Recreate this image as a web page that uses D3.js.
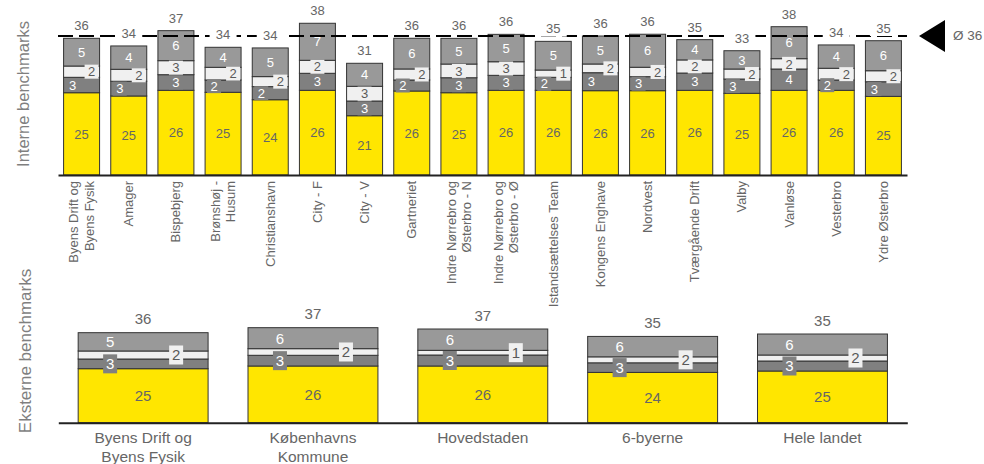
<!DOCTYPE html>
<html>
<head>
<meta charset="utf-8">
<script src="https://cdn.jsdelivr.net/npm/d3@7"></script>
<style>
  body { margin: 0; background: #ffffff; }
  svg { display: block; font-family: "Liberation Sans", Arial, sans-serif; }
</style>
</head>
<body>
<script>
// ---------- DATA ----------
const topCategories = [
  "Byens Drift og\nByens Fysik", "Amager", "Bispebjerg", "Brønshøj -\nHusum", "Christianshavn",
  "City - F", "City - V", "Gartneriet", "Indre Nørrebro og\nØsterbro - N", "Indre Nørrebro og\nØsterbro - Ø",
  "Istandsættelses Team", "Kongens Enghave", "Nordvest", "Tværgående Drift", "Valby",
  "Vanløse", "Vesterbro", "Ydre Østerbro"
];
const topBase  = [25.38, 24.77, 25.83, 25.46, 24.07, 25.83, 21.08, 25.70, 25.38, 25.83, 25.83, 25.76, 25.76, 25.83, 25.27, 25.83, 25.83, 24.70];
const topDark  = [2.88, 2.75, 2.92, 2.30, 2.45, 3.18, 2.75, 2.06, 2.80, 2.80, 2.43, 3.36, 2.62, 3.23, 2.67, 3.98, 1.93, 2.73];
const topLight = [2.11, 2.24, 2.62, 2.37, 1.87, 2.43, 2.75, 2.06, 2.56, 2.54, 1.36, 1.63, 1.76, 2.45, 1.87, 1.93, 2.19, 2.06];
const topGrey  = [5.18, 4.36, 5.61, 3.74, 5.36, 6.92, 4.30, 5.74, 4.80, 5.12, 5.36, 5.23, 6.17, 3.79, 3.42, 5.98, 4.36, 5.61];
const avgValue = 36;

const bottomCategories = ["Byens Drift og\nByens Fysik", "Københavns\nKommune", "Hovedstaden", "6-byerne", "Hele landet"];
const bottomBase  = [25.43, 26.20, 26.20, 24.37, 24.77];
const bottomDark  = [2.77, 3.06, 3.14, 2.74, 2.86];
const bottomLight = [2.29, 1.89, 1.34, 1.71, 1.71];
const bottomGrey  = [5.23, 6.00, 6.09, 5.83, 6.00];

const axisTitles = ["Interne benchmarks", "Eksterne benchmarks"];

// ---------- STYLE ----------
const keys = ["base", "dark", "light", "grey"];
const colors = { base: "#FFE600", dark: "#808080", light: "#F0F0F0", grey: "#999999" };
const textColors = { base: "#666666", dark: "#ffffff", light: "#595959", grey: "#ffffff" };
const fmt = d3.format(".0f");

const svg = d3.select("body").append("svg").attr("width", 984).attr("height", 464);

function buildRows(cats, base, dark, light, grey) {
  return cats.map((c, i) => ({ cat: c, base: base[i], dark: dark[i], light: light[i], grey: grey[i] }));
}

function drawChart(opts) {
  const { rows, x, y, fontSize, boxW, boxH, totalOffset, placement, avg } = opts;
  const g = svg.append("g");
  const stacked = d3.stack().keys(keys)(rows);

  // bars
  stacked.forEach(layer => {
    g.append("g").selectAll("rect").data(layer).join("rect")
      .attr("x", d => x(d.data.cat))
      .attr("width", x.bandwidth())
      .attr("y", d => y(d[1]))
      .attr("height", d => y(d[0]) - y(d[1]))
      .attr("fill", colors[layer.key])
      .attr("stroke", "#333333")
      .attr("stroke-width", 1);
  });

  // axis
  const ax = g.append("g").attr("transform", `translate(0,${y(y.domain()[0])})`)
    .call(d3.axisBottom(x).tickSize(0).tickSizeOuter(0));
  ax.select(".domain").attr("stroke", "#222").attr("stroke-width", 2);

  // average line
  if (avg !== undefined) {
    const r = x.range();
    g.append("line")
      .attr("x1", r[0]).attr("x2", r[1])
      .attr("y1", y(avg)).attr("y2", y(avg))
      .attr("stroke", "#000").attr("stroke-width", 2)
      .attr("stroke-dasharray", "15,6");
  }

  // segment labels
  stacked.forEach(layer => {
    const k = layer.key;
    layer.forEach(d => {
      const v = d.data[k];
      const cx = x(d.data.cat) + x.bandwidth() / 2 + placement(k, d.data);
      const cy = (y(d[0]) + y(d[1])) / 2;
      if (k === "dark" || k === "light") {
        g.append("rect")
          .attr("x", cx - boxW / 2).attr("y", cy - boxH / 2)
          .attr("width", boxW).attr("height", boxH)
          .attr("fill", colors[k]);
      }
      g.append("text")
        .attr("x", cx).attr("y", cy).attr("dy", "0.36em")
        .attr("text-anchor", "middle")
        .attr("font-size", fontSize)
        .attr("fill", textColors[k])
        .text(fmt(v));
    });
  });

  // totals
  const last = stacked[stacked.length - 1];
  last.forEach(d => {
    const cx = x(d.data.cat) + x.bandwidth() / 2;
    const cy = y(d[1]) - totalOffset;
    g.append("rect")
      .attr("x", cx - 13.5).attr("y", cy - 8)
      .attr("width", 27).attr("height", 16)
      .attr("fill", "#ffffff");
    g.append("text")
      .attr("x", cx).attr("y", cy).attr("dy", "0.36em")
      .attr("text-anchor", "middle")
      .attr("font-size", fontSize)
      .attr("fill", "#666666")
      .text(fmt(d[1]));
  });
  return ax;
}

// ---------- TOP CHART ----------
const topRows = buildRows(topCategories, topBase, topDark, topLight, topGrey);
const xTop = d3.scaleBand().domain(topCategories).range([58, 907]).paddingInner(0.237).paddingOuter(0.1185);
const yTop = d3.scaleLinear().domain([10, 40]).range([175, 175 - 30 * 5.35]).clamp(true);

const offsetTop = d => d.light < 2.4 && d.dark < 3.9;
const axTop = drawChart({
  rows: topRows, x: xTop, y: yTop, fontSize: 13, boxW: 14, boxH: 14, totalOffset: 12.7, avg: avgValue,
  placement: (k, d) => {
    if (!offsetTop(d)) return 0;
    if (k === "light") return 10;
    if (k === "dark") return -9;
    return 0;
  }
});
axTop.selectAll(".tick text").each(function (d) {
  const t = d3.select(this);
  const lines = d.split("\n");
  t.text(null).attr("y", null).attr("dy", null)
    .attr("transform", "rotate(-90)")
    .attr("text-anchor", "end")
    .attr("font-size", 13)
    .attr("font-family", "Liberation Sans, Arial, sans-serif")
    .attr("fill", "#666666");
  lines.forEach((l, i) => {
    t.append("tspan")
      .attr("x", -6)
      .attr("y", (i - (lines.length - 1) / 2) * 15.7)
      .attr("dy", "0.35em")
      .text(l);
  });
});

// average marker
svg.append("path")
  .attr("d", `M919,${yTop(avgValue)} L945,${yTop(avgValue) - 16} L945,${yTop(avgValue) + 16} Z`)
  .attr("fill", "#000");
svg.append("text")
  .attr("x", 953).attr("y", yTop(avgValue)).attr("dy", "0.3em")
  .attr("font-size", 13.5).attr("fill", "#666666")
  .text("Ø " + avgValue);

// ---------- BOTTOM CHART ----------
const bottomRows = buildRows(bottomCategories, bottomBase, bottomDark, bottomLight, bottomGrey);
const xBot = d3.scaleBand().domain(bottomCategories).range([58.3, 907.3]).paddingInner(0.235).paddingOuter(0.117);
const yBot = d3.scaleLinear().domain([10, 40]).range([422.7, 422.7 - 30 * 3.5]).clamp(true);

const axBot = drawChart({
  rows: bottomRows, x: xBot, y: yBot, fontSize: 15, boxW: 14, boxH: 19, totalOffset: 13.7,
  placement: (k) => {
    if (k === "grey" || k === "dark") return -33;
    if (k === "light") return 33;
    return 0;
  }
});
axBot.selectAll(".tick text").each(function (d) {
  const t = d3.select(this);
  const lines = d.split("\n");
  t.text(null).attr("y", null).attr("dy", null)
    .attr("text-anchor", "middle")
    .attr("font-size", 15.5)
    .attr("font-family", "Liberation Sans, Arial, sans-serif")
    .attr("fill", "#666666");
  lines.forEach((l, i) => {
    t.append("tspan")
      .attr("x", 0)
      .attr("y", 15.3 + i * 18.7)
      .attr("dy", "0.35em")
      .text(l);
  });
});

// ---------- AXIS TITLES ----------
svg.append("text")
  .attr("transform", "translate(23,94) rotate(-90)")
  .attr("text-anchor", "middle").attr("dy", "0.35em")
  .attr("font-size", 16.5).attr("fill", "#7f7f7f")
  .text(axisTitles[0]);
svg.append("text")
  .attr("transform", "translate(25,351) rotate(-90)")
  .attr("text-anchor", "middle").attr("dy", "0.35em")
  .attr("font-size", 17).attr("fill", "#7f7f7f")
  .text(axisTitles[1]);
</script>
</body>
</html>
